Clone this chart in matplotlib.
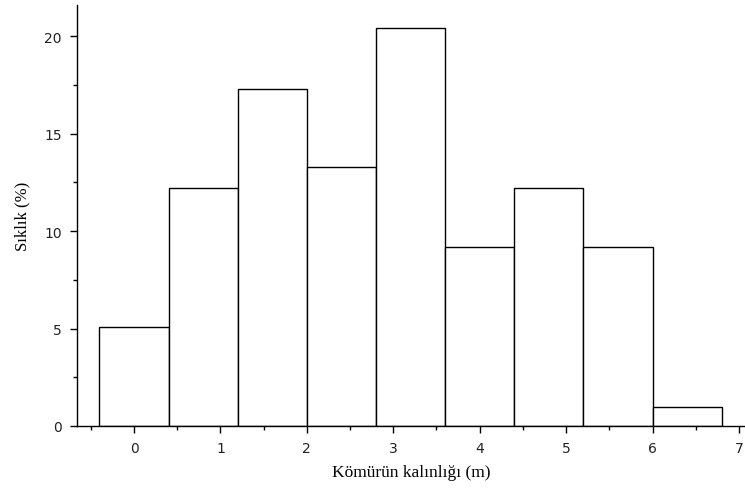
import matplotlib
matplotlib.use("Agg")
import matplotlib.pyplot as plt
import numpy as np

bin_edges = [-0.4, 0.4, 1.2, 2.0, 2.8, 3.6, 4.4, 5.2, 6.0, 6.8]
frequencies = [5.1, 12.2, 17.3, 13.3, 20.4, 9.2, 12.2, 9.2, 1.0]
xticks = [0, 1, 2, 3, 4, 5, 6, 7]
yticks = [0, 5, 10, 15, 20]

fig = plt.figure(figsize=(7.45, 4.89), dpi=100)
ax = fig.add_axes([77/745, 62/489, 1 - 77/745, (427-6)/489])

lefts = np.array(bin_edges[:-1])
widths = np.diff(bin_edges)
ax.bar(lefts, frequencies, width=widths, align='edge', facecolor='white',
       edgecolor='black', linewidth=1.0)

ax.set_xlim(-0.66, 7.07)
ax.set_ylim(0, 21.6)
ax.set_xticks(xticks)
ax.set_yticks(yticks)
ax.set_xticks(np.arange(-0.5, 7.1, 1.0), minor=True)
ax.set_yticks(np.arange(2.5, 21, 5.0), minor=True)
for s in ['top', 'right']:
    ax.spines[s].set_visible(False)
for s in ['left', 'bottom']:
    ax.spines[s].set_linewidth(1.0)
ax.tick_params(axis='both', which='major', length=5, width=1, labelsize=10,
               labelcolor='#222222', pad=6)
ax.tick_params(axis='both', which='minor', length=3, width=1)

ax.set_xlabel('Kömürün kalınlığı (m)', family='Liberation Serif', fontsize=12.5, labelpad=6)
ax.set_ylabel('Sıklık (%)', family='Liberation Serif', fontsize=12, labelpad=10)

fig.savefig('out.png', dpi=100)
